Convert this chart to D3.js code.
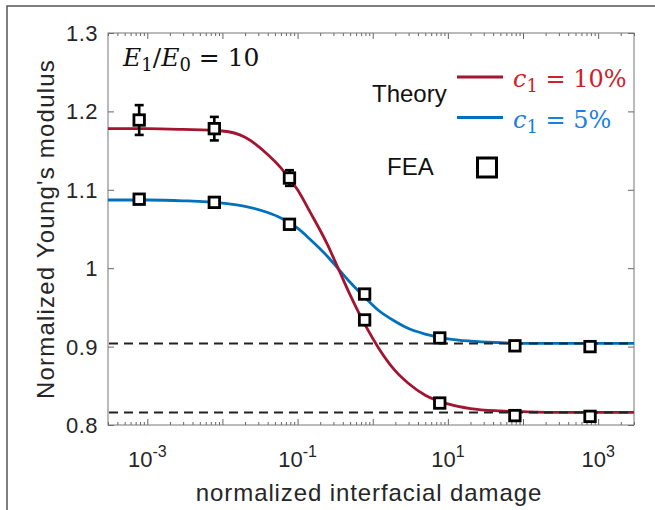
<!DOCTYPE html>
<html>
<head>
<meta charset="utf-8">
<script src="https://cdn.jsdelivr.net/npm/d3@7"></script>
<style>
  body { margin: 0; background: #fff; }
  svg { display: block; }
</style>
</head>
<body>
<div id="chart-area"></div>
<script>
const WIDTH = 655
const HEIGHT = 510
const PLOT = { LEFT: 108, RIGHT: 634, TOP: 33, BOTTOM: 425 }

// FEA points (x = normalized interfacial damage)
const feaX = [7.8e-4, 7.8e-3, 0.078, 0.78, 7.8, 78, 780]
const feaHigh = [1.189, 1.178, 1.115, 0.934, 0.828, 0.812, 0.811]   // c1 = 10%
const feaHighErr = [0.019, 0.015, 0.010, 0, 0, 0, 0]
const feaLow = [1.088, 1.084, 1.056, 0.967, 0.911, 0.901, 0.900]    // c1 = 5%

// theory curves
const theoryX = [3e-4, 1e-3, 3e-3, 0.01, 0.02, 0.04, 0.06, 0.1, 0.15, 0.25, 0.35, 0.5,
  0.8, 1.2, 2, 3, 5, 10, 20, 50, 100, 300, 1000, 3000]
const theoryHigh = [1.178, 1.178, 1.177, 1.175, 1.167, 1.145, 1.128, 1.100, 1.070, 1.030, 0.999, 0.966,
  0.927, 0.898, 0.869, 0.853, 0.838, 0.827, 0.821, 0.818, 0.817, 0.816, 0.816, 0.816]
const theoryLow = [1.087, 1.087, 1.086, 1.083, 1.079, 1.071, 1.064, 1.051, 1.036, 1.015, 0.999, 0.982,
  0.962, 0.946, 0.932, 0.923, 0.916, 0.910, 0.907, 0.905, 0.904, 0.904, 0.904, 0.904]

// asymptotes (dashed)
const limits = [0.904, 0.816]

// ticks
const xMajor = [1e-3, 1e-2, 1e-1, 1, 10, 100, 1000]
const xLabelExp = [-3, -1, 1, 3]
const yTicks = [0.8, 0.9, 1.0, 1.1, 1.2, 1.3]
const yTickLabels = ["0.8", "0.9", "1", "1.1", "1.2", "1.3"]

const RED = "#a2142f"
const BLUE = "#0072bd"
const SANS = "'Liberation Sans', Arial, sans-serif"
const SERIF = "'DejaVu Serif', serif"

const svg = d3.select("#chart-area").append("svg")
  .attr("width", WIDTH)
  .attr("height", HEIGHT)

// figure border (cropped)
svg.append("rect")
  .attr("x", 7).attr("y", 6)
  .attr("width", 700).attr("height", 600)
  .attr("fill", "none")
  .attr("stroke", "#555")
  .attr("stroke-width", 1.5)

const x = d3.scaleLog().domain([3e-4, 3e3]).range([PLOT.LEFT, PLOT.RIGHT])
const y = d3.scaleLinear().domain([0.8, 1.3]).range([PLOT.BOTTOM, PLOT.TOP])

const xMinor = x.ticks().filter(v => !xMajor.some(m => Math.abs(v / m - 1) < 1e-6))

// Axes (ticks pointing inward, box on)
function tickAxis(axis, vals, size, tr) {
  const g = svg.append("g")
    .attr("transform", tr)
    .call(axis.tickValues(vals).tickSize(size).tickFormat(""))
  g.select(".domain").remove()
  g.selectAll("line").attr("stroke", "#666").attr("stroke-width", 1)
  return g
}
tickAxis(d3.axisBottom(x), xMajor, -6, `translate(0, ${PLOT.BOTTOM})`)
tickAxis(d3.axisBottom(x), xMinor, -3, `translate(0, ${PLOT.BOTTOM})`)
tickAxis(d3.axisTop(x), xMajor, -6, `translate(0, ${PLOT.TOP})`)
tickAxis(d3.axisTop(x), xMinor, -3, `translate(0, ${PLOT.TOP})`)
tickAxis(d3.axisLeft(y), yTicks, -6, `translate(${PLOT.LEFT}, 0)`)
tickAxis(d3.axisRight(y), yTicks, -6, `translate(${PLOT.RIGHT}, 0)`)

svg.append("rect")
  .attr("x", PLOT.LEFT).attr("y", PLOT.TOP)
  .attr("width", PLOT.RIGHT - PLOT.LEFT)
  .attr("height", PLOT.BOTTOM - PLOT.TOP)
  .attr("fill", "none")
  .attr("stroke", "#777")
  .attr("stroke-width", 1)

// Y tick labels
svg.append("g").selectAll("text")
  .data(yTicks)
  .enter().append("text")
  .attr("x", PLOT.LEFT - 10)
  .attr("y", d => y(d) + 8)
  .attr("text-anchor", "end")
  .attr("font-family", SANS)
  .attr("font-size", "22px")
  .attr("letter-spacing", "0.5px")
  .attr("fill", "#262626")
  .text((d, i) => yTickLabels[i])

// X tick labels 10^n
const xl = svg.append("g").selectAll("text")
  .data(xLabelExp)
  .enter().append("text")
  .attr("x", d => x(Math.pow(10, d)))
  .attr("y", 467)
  .attr("text-anchor", "middle")
  .attr("font-family", SANS)
  .attr("font-size", "22px")
  .attr("fill", "#262626")
xl.append("tspan").text("10")
xl.append("tspan")
  .attr("dy", -10)
  .attr("font-size", "16px")
  .text(d => d < 0 ? "-" + Math.abs(d) : String(d))

// Axis labels
svg.append("text")
  .attr("x", (PLOT.LEFT + PLOT.RIGHT) / 2 - 2)
  .attr("y", 501)
  .attr("text-anchor", "middle")
  .attr("font-family", SANS)
  .attr("font-size", "24px")
  .attr("letter-spacing", "0.9px")
  .attr("fill", "#262626")
  .text("normalized interfacial damage")

svg.append("text")
  .attr("transform", `translate(54, ${(PLOT.TOP + PLOT.BOTTOM) / 2}) rotate(-90)`)
  .attr("text-anchor", "middle")
  .attr("font-family", SANS)
  .attr("font-size", "24px")
  .attr("letter-spacing", "1.2px")
  .attr("fill", "#262626")
  .text("Normalized Young's modulus")

// Theory curves
const line = d3.line()
  .x(d => x(d[0]))
  .y(d => y(d[1]))
  .curve(d3.curveMonotoneX)

svg.append("path")
  .datum(theoryX.map((v, i) => [v, theoryLow[i]]))
  .attr("d", line)
  .attr("fill", "none")
  .attr("stroke", BLUE)
  .attr("stroke-width", 2.8)

svg.append("path")
  .datum(theoryX.map((v, i) => [v, theoryHigh[i]]))
  .attr("d", line)
  .attr("fill", "none")
  .attr("stroke", RED)
  .attr("stroke-width", 2.8)

// dashed asymptotes
svg.append("g").selectAll("line")
  .data(limits)
  .enter().append("line")
  .attr("x1", x.range()[0] + 1)
  .attr("x2", x.range()[1])
  .attr("y1", d => y(d))
  .attr("y2", d => y(d))
  .attr("stroke", "#222")
  .attr("stroke-width", 2)
  .attr("stroke-dasharray", "9,6")

// error bars
const errData = feaX.map((v, i) => ({ x: v, y: feaHigh[i], e: feaHighErr[i] })).filter(d => d.e > 0)
const eb = svg.append("g").attr("stroke", "#000").attr("stroke-width", 2.6)
eb.selectAll(".v").data(errData).enter().append("line")
  .attr("x1", d => x(d.x)).attr("x2", d => x(d.x))
  .attr("y1", d => y(d.y - d.e)).attr("y2", d => y(d.y + d.e))
eb.selectAll(".t").data(errData).enter().append("line")
  .attr("x1", d => x(d.x) - 4.5).attr("x2", d => x(d.x) + 4.5)
  .attr("y1", d => y(d.y + d.e)).attr("y2", d => y(d.y + d.e))
eb.selectAll(".b").data(errData).enter().append("line")
  .attr("x1", d => x(d.x) - 4.5).attr("x2", d => x(d.x) + 4.5)
  .attr("y1", d => y(d.y - d.e)).attr("y2", d => y(d.y - d.e))

// FEA markers
const S = 10.5
const pts = feaX.map((v, i) => [v, feaHigh[i]]).concat(feaX.map((v, i) => [v, feaLow[i]]))
svg.append("g").selectAll("rect")
  .data(pts)
  .enter().append("rect")
  .attr("x", d => x(d[0]) - S / 2)
  .attr("y", d => y(d[1]) - S / 2)
  .attr("width", S)
  .attr("height", S)
  .attr("fill", "#fff")
  .attr("stroke", "#000")
  .attr("stroke-width", 2.8)

// annotation E1/E0 = 10
const ann = svg.append("text")
  .attr("x", 123).attr("y", 66)
  .attr("font-family", SERIF)
  .attr("font-size", "25px")
  .attr("fill", "#111")
ann.append("tspan").attr("font-style", "italic").text("E")
ann.append("tspan").attr("font-size", "18px").attr("dy", 5).text("1")
ann.append("tspan").attr("dy", -5).text("/")
ann.append("tspan").attr("font-style", "italic").text("E")
ann.append("tspan").attr("font-size", "18px").attr("dy", 5).text("0")
ann.append("tspan").attr("dy", -5).text(" = 10")

// Legend
const legend = svg.append("g")
legend.append("text")
  .attr("x", 372).attr("y", 102)
  .attr("font-family", SANS).attr("font-size", "24px").attr("fill", "#111")
  .text("Theory")
legend.append("text")
  .attr("x", 387).attr("y", 175)
  .attr("font-family", SANS).attr("font-size", "24px").attr("fill", "#111")
  .text("FEA")

const legendRows = [
  { color: RED, text: "#d0202a", val: "10%", ly: 77, ty: 87 },
  { color: BLUE, text: "#1a7fe0", val: "5%", ly: 117.5, ty: 128 }
]
legendRows.forEach(r => {
  legend.append("line")
    .attr("x1", 457).attr("x2", 503)
    .attr("y1", r.ly).attr("y2", r.ly)
    .attr("stroke", r.color).attr("stroke-width", 3)
  const t = legend.append("text")
    .attr("x", 513).attr("y", r.ty)
    .attr("font-family", SERIF).attr("font-size", "24px")
    .attr("fill", r.text)
  t.append("tspan").attr("font-style", "italic").text("c")
  t.append("tspan").attr("font-size", "18px").attr("dy", 5).text("1")
  t.append("tspan").attr("dy", -5).text(" = " + r.val)
})

legend.append("rect")
  .attr("x", 487 - 9.5).attr("y", 167.5 - 9.5)
  .attr("width", 19).attr("height", 19)
  .attr("fill", "#fff")
  .attr("stroke", "#000")
  .attr("stroke-width", 3)
</script>
</body>
</html>
